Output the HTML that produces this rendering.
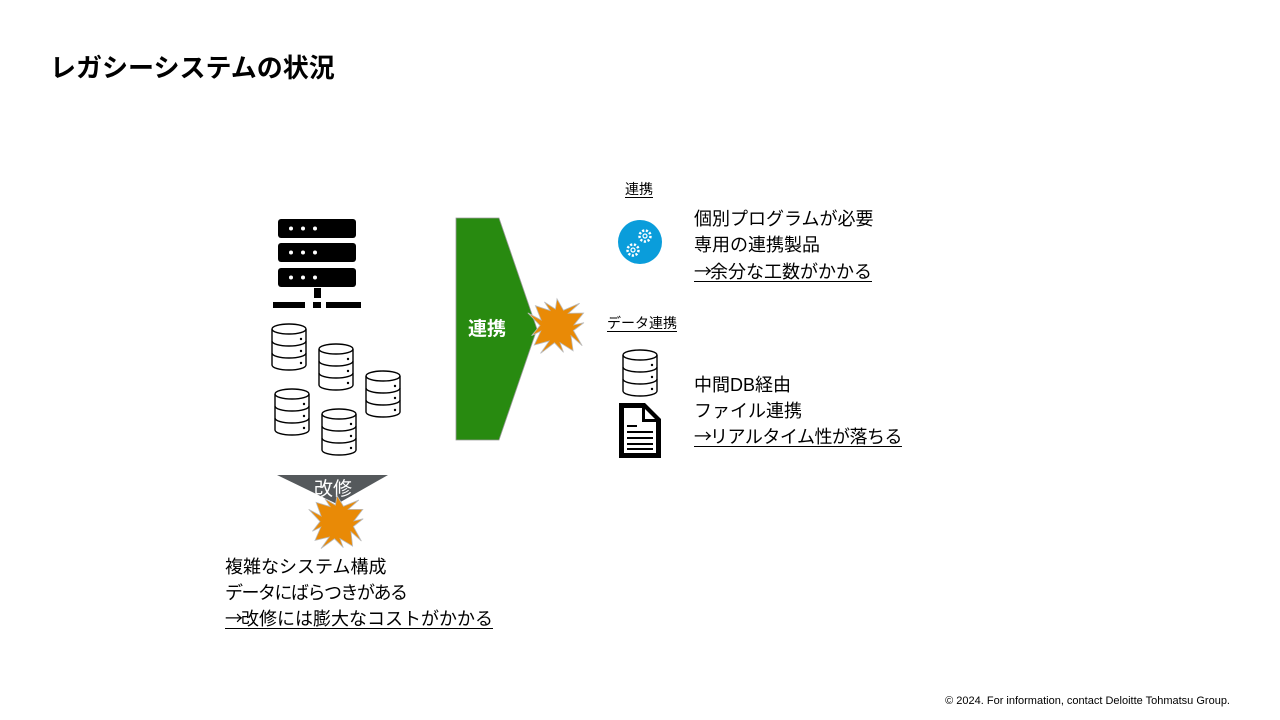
<!DOCTYPE html>
<html><head><meta charset="utf-8">
<style>
body{margin:0;width:1280px;height:720px;background:#fff;position:relative;overflow:hidden;font-family:"Liberation Sans","Noto Sans CJK JP",sans-serif;color:#000}
.t{position:absolute;white-space:nowrap;line-height:1}
.u{text-decoration:underline;text-underline-offset:3px;text-decoration-thickness:1px}
.a{font-family:"Noto Sans CJK JP",sans-serif;letter-spacing:-2px}
</style></head><body>
<div class="t" style="left:50px;top:55px;font-size:26px;font-weight:bold">レガシーシステムの状況</div>

<svg width="1280" height="720" style="position:absolute;left:0;top:0">
 <defs>
  <g id="db">
   <path d="M1,6 A17,5 0 0 1 35,6 L35,42 A17,5 0 0 1 1,42 Z" fill="#fff" stroke="#000" stroke-width="1.4"/>
   <path d="M1,6 A17,5 0 0 0 35,6 M1,18 A17,5 0 0 0 35,18 M1,30 A17,5 0 0 0 35,30" fill="none" stroke="#000" stroke-width="1.4"/>
   <circle cx="30" cy="16" r="1.2"/><circle cx="30" cy="28" r="1.2"/><circle cx="30" cy="40" r="1.2"/>
  </g>
  <g id="rack"><rect x="0" y="0" width="78" height="19" rx="3" fill="#000"/>
   <circle cx="13" cy="9.5" r="2" fill="#fff"/><circle cx="25" cy="9.5" r="2" fill="#fff"/><circle cx="37" cy="9.5" r="2" fill="#fff"/></g>
 </defs>
 <use href="#rack" x="278" y="219"/><use href="#rack" x="278" y="243"/><use href="#rack" x="278" y="268"/>
 <rect x="314" y="288" width="7" height="10"/>
 <rect x="273" y="302" width="32" height="6"/><rect x="313" y="302" width="8" height="6"/><rect x="326" y="302" width="35" height="6"/>
 <use href="#db" x="271" y="323"/><use href="#db" x="318" y="343"/><use href="#db" x="365" y="370"/>
 <use href="#db" x="274" y="388"/><use href="#db" x="321" y="408"/><use href="#db" x="622" y="349"/>

 <polygon points="456,218 499,218 537,329 499,440 456,440" fill="#288a10" stroke="#9a9a9a" stroke-width="0.8"/>
 <text x="487" y="335" font-size="19" font-weight="bold" fill="#fff" text-anchor="middle" font-family="Liberation Sans,Noto Sans CJK JP,sans-serif">連携</text>

 <polygon points="277,475 388,475 337,504" fill="#55595c"/>
 <text x="333" y="495" font-size="19" fill="#fff" text-anchor="middle" font-family="Liberation Sans,Noto Sans CJK JP,sans-serif">改修</text>

 <polygon id="s1" fill="#e98a06" stroke="#bbb" stroke-width="0.8"/>
 <polygon id="s2" fill="#e98a06" stroke="#bbb" stroke-width="0.8"/>

 <circle cx="640" cy="242" r="22" fill="#0a9ddb"/>
 <g fill="none" stroke="#fff" stroke-width="2.5">
  <circle cx="633" cy="250" r="5.5" stroke-dasharray="2.2 1.6"/><circle cx="633" cy="250" r="2" stroke-width="1.2"/>
  <circle cx="645" cy="236" r="5.5" stroke-dasharray="2.2 1.6"/><circle cx="645" cy="236" r="2" stroke-width="1.2"/>
 </g>

 <path d="M619,403 L645,403 L661,419 L661,458 L619,458 Z" fill="#000"/>
 <path d="M624,408 L642,408 L642,422 L656,422 L656,453 L624,453 Z" fill="#fff"/>
 <path d="M645,409 L655,419 L645,419 Z" fill="#fff"/>
 <g fill="#000"><rect x="627" y="425" width="10" height="2"/><rect x="627" y="431" width="26" height="2"/><rect x="627" y="437" width="26" height="2"/><rect x="627" y="443" width="26" height="2"/><rect x="627" y="448" width="26" height="2"/></g>
</svg>
<script>
function star(id,cx,cy,ro,ri,n){var p=[];for(var i=0;i<2*n;i++){var a=Math.PI*i/n-Math.PI/2+0.15*(i%3);var r=i%2?ri:ro*(0.85+0.15*((i*7)%3)/2);p.push((cx+r*Math.cos(a)).toFixed(1)+","+(cy+r*Math.sin(a)).toFixed(1));}document.getElementById(id).setAttribute("points",p.join(" "));}
star("s1",557,326,32,17,13);star("s2",337,522,31,17,13);
</script>

<div class="t u" style="left:625px;top:182px;font-size:14px">連携</div>
<div class="t u" style="left:607px;top:316px;font-size:14px">データ連携</div>

<div class="t" style="left:694px;top:210px;font-size:18px">個別プログラムが必要</div>
<div class="t" style="left:694px;top:236px;font-size:18px">専用の連携製品</div>
<div class="t u" style="left:694px;top:262px;font-size:18px"><span class="a">→</span>余分な工数がかかる</div>

<div class="t" style="left:694px;top:376px;font-size:18px">中間DB経由</div>
<div class="t" style="left:694px;top:402px;font-size:18px">ファイル連携</div>
<div class="t u" style="left:694px;top:427px;font-size:18px;letter-spacing:-0.5px"><span class="a">→</span>リアルタイム性が落ちる</div>

<div class="t" style="left:225px;top:558px;font-size:18px">複雑なシステム構成</div>
<div class="t" style="left:225px;top:584px;font-size:18px;letter-spacing:-1.5px">データにばらつきがある</div>
<div class="t u" style="left:225px;top:609px;font-size:18px"><span class="a">→</span>改修には膨大なコストがかかる</div>

<div class="t" style="right:50px;top:696px;font-size:11px">© 2024. For information, contact Deloitte Tohmatsu Group.</div>
</body></html>
